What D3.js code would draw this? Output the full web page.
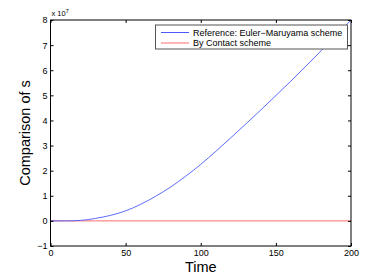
<!DOCTYPE html>
<html><head><meta charset="utf-8">
<script src="https://cdn.jsdelivr.net/npm/d3@7"></script>
<style>body{margin:0;background:#fff}svg{display:block;font-family:"Liberation Sans",Arial,sans-serif}</style>
</head><body>
<svg id="c" width="388" height="277"></svg>
<script>
const time = [0,10,15,20,25,30,40,50,60,70,80,90,100,110,120,130,140,150,160,170,180,190,200];
const eulerMaruyama = [0,0,0.003,0.02,0.05,0.1,0.22,0.4,0.66,0.98,1.35,1.78,2.25,2.77,3.31,3.86,4.42,4.99,5.57,6.16,6.77,7.38,8.0]; // x 10^7
const contactScheme = [0,0,0,0,0,0,0,0,0,0,0,0,0,0,0,0,0,0,0,0,0,0,0];
const xTicks = [0,50,100,150,200];
const yTicks = [-1,0,1,2,3,4,5,6,7,8];
const seriesNames = ["Reference: Euler\u2212Maruyama scheme","By Contact scheme"];
const seriesColors = ["#4a5cff","#ff6b6b"];

const svg = d3.select("#c");
const L=50.5, R=351, T=20, B=246;
const x = d3.scaleLinear().domain([0,200]).range([L,R]);
const y = d3.scaleLinear().domain([-1,8]).range([B,T]);

svg.append("clipPath").attr("id","pc").append("rect").attr("x",L).attr("y",T).attr("width",R-L).attr("height",B-T);

const line = d3.line().x((d,i)=>x(time[i])).y(d=>y(d)).curve(d3.curveMonotoneX);
const g = svg.append("g").attr("clip-path","url(#pc)");
g.append("path").datum(contactScheme).attr("d",line).attr("fill","none").attr("stroke",seriesColors[1]).attr("stroke-width",1);
g.append("path").datum(eulerMaruyama).attr("d",line).attr("fill","none").attr("stroke",seriesColors[0]).attr("stroke-width",0.9);

// axes
const fs = "9px";
const bx = svg.append("g").attr("transform",`translate(0,${B})`).call(d3.axisBottom(x).tickValues(xTicks).tickSizeInner(-3).tickSizeOuter(0).tickPadding(4));
const tx = svg.append("g").attr("transform",`translate(0,${T})`).call(d3.axisTop(x).tickValues(xTicks).tickSizeInner(-3).tickSizeOuter(0).tickFormat(""));
const ly = svg.append("g").attr("transform",`translate(${L},0)`).call(d3.axisLeft(y).tickValues(yTicks).tickSizeInner(-3).tickSizeOuter(0).tickPadding(3).tickFormat(d=>d<0?"\u22121":d));
const ry = svg.append("g").attr("transform",`translate(${R},0)`).call(d3.axisRight(y).tickValues(yTicks).tickSizeInner(-3).tickSizeOuter(0).tickFormat(""));
[bx,tx,ly,ry].forEach(a=>{a.select(".domain").remove();a.selectAll("line").attr("stroke","#000");a.selectAll("text").attr("font-size",fs).attr("fill","#000").attr("font-family","Liberation Sans, Arial, sans-serif");});
svg.append("rect").attr("x",L).attr("y",T).attr("width",R-L).attr("height",B-T).attr("fill","none").attr("stroke","#000").attr("stroke-width",1);

// exponent
const ex = svg.append("text").attr("x",L+1).attr("y",16).attr("font-size","7.5px").attr("fill","#000");
ex.append("tspan").text("x 10");
ex.append("tspan").attr("dy",-3).attr("font-size","5.5px").text("7");

// labels
svg.append("text").attr("x",(L+R)/2).attr("y",272).attr("text-anchor","middle").attr("font-size","14.5px").text("Time");
svg.append("text").attr("transform",`translate(30,${(T+B)/2}) rotate(-90)`).attr("text-anchor","middle").attr("font-size","14.5px").text("Comparison of s");

// legend
const lg = svg.append("g");
lg.append("rect").attr("x",155.5).attr("y",25).attr("width",192).attr("height",24).attr("fill","#fff").attr("stroke","#555").attr("stroke-width",1);
seriesNames.forEach((n,i)=>{
  const yy = 32.5 + i*10.5;
  lg.append("line").attr("x1",161).attr("x2",189).attr("y1",yy).attr("y2",yy).attr("stroke",seriesColors[i]).attr("stroke-width",1);
  lg.append("text").attr("x",193).attr("y",yy+3.2).attr("font-size","9px").text(n);
});
</script>
</body></html>
